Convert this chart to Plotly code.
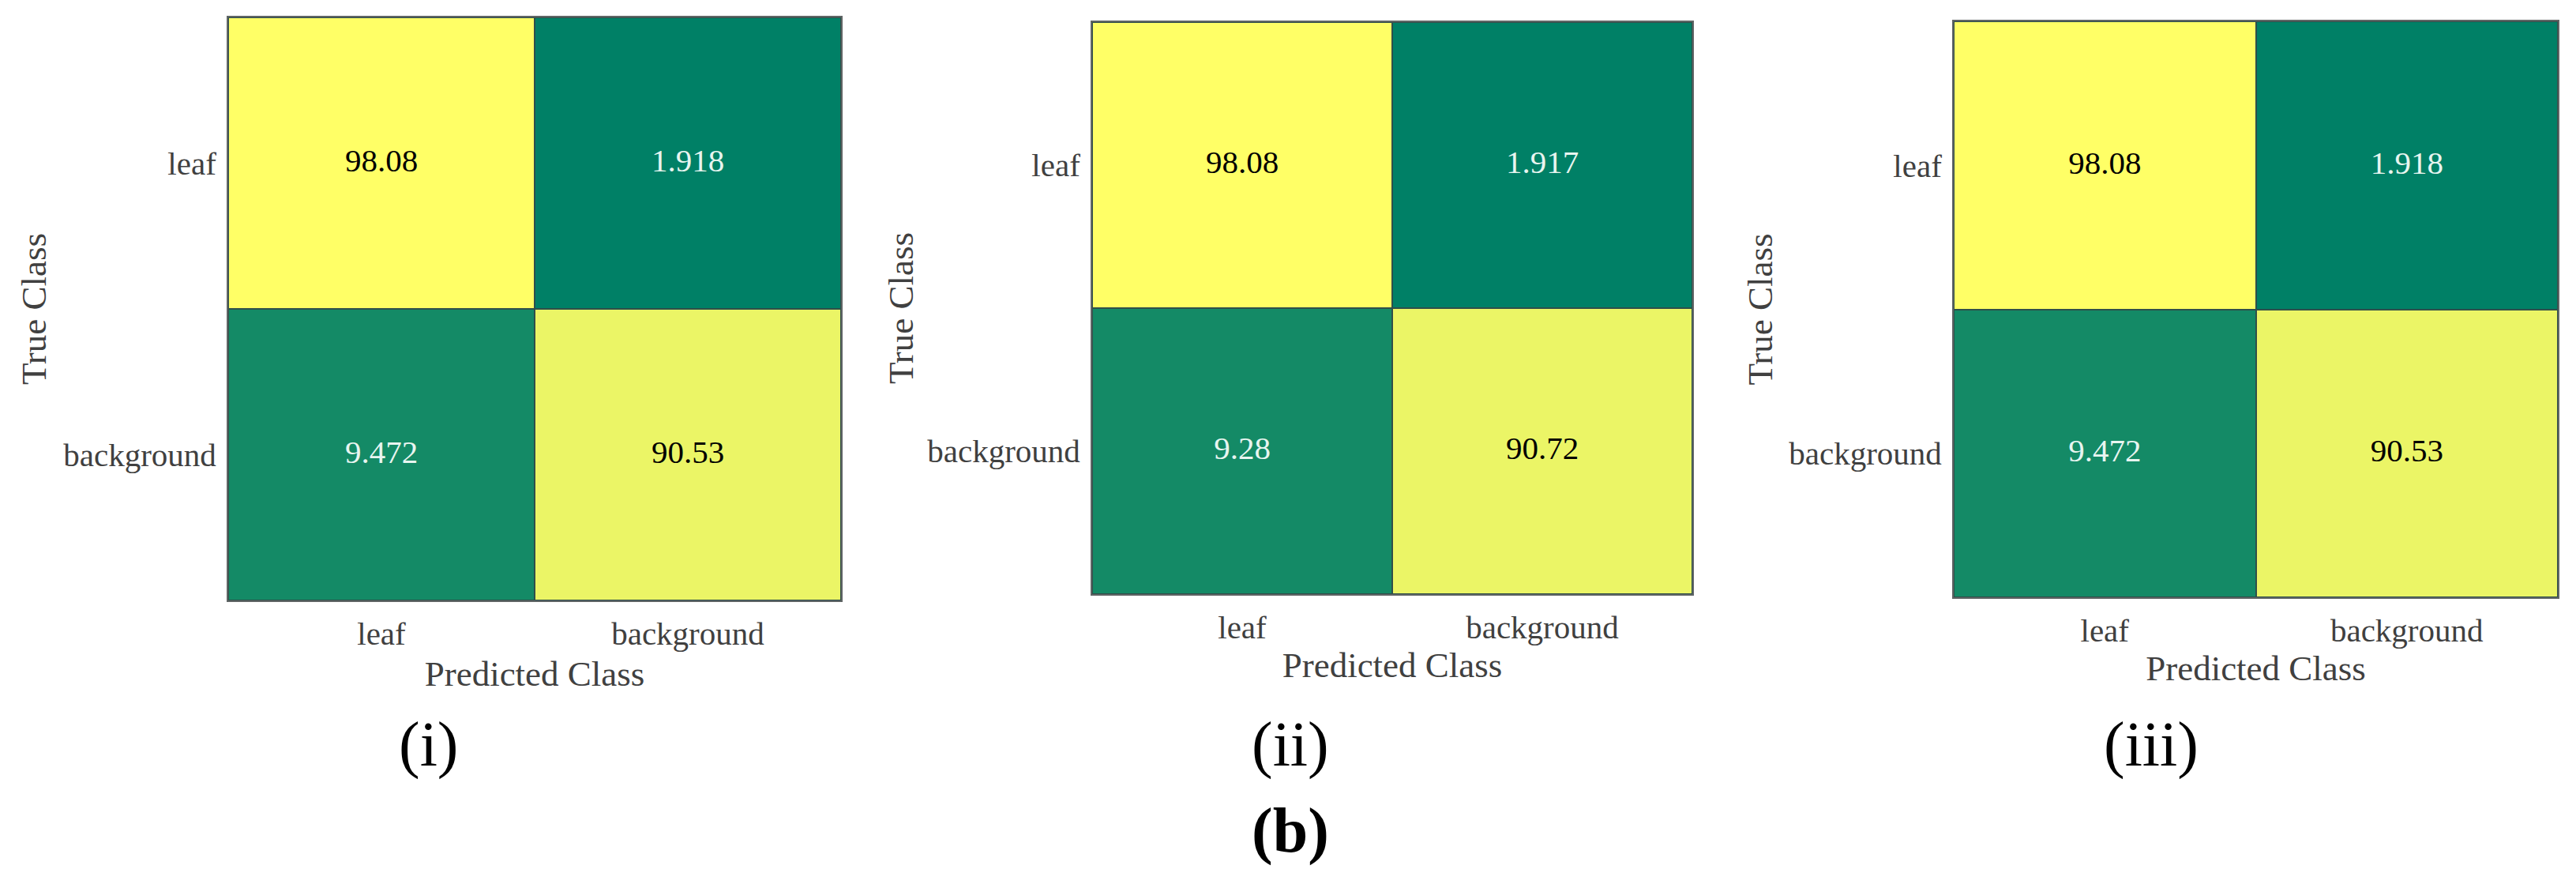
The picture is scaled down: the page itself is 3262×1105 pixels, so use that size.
import plotly.graph_objects as go

# Data
classes = ["leaf", "background"]
panel_names = ["(i)", "(ii)", "(iii)"]
values_i = [[98.08, 1.918], [9.472, 90.53]]
values_ii = [[98.08, 1.917], [9.28, 90.72]]
values_iii = [[98.08, 1.918], [9.472, 90.53]]
labels_i = [["98.08", "1.918"], ["9.472", "90.53"]]
labels_ii = [["98.08", "1.917"], ["9.28", "90.72"]]
labels_iii = [["98.08", "1.918"], ["9.472", "90.53"]]
x_title = "Predicted Class"
y_title = "True Class"
figure_label = "(b)"

# Layout (pixels in the 3262x1105 page)
W, H = 3262, 1105
boxes = [(289, 1065, 22, 760), (1383, 2143, 28, 752), (2474, 3239, 27, 756)]
caption_x = [543, 1634, 2724]
caption_y = 942
ytitle_x = [44, 1142, 2230]
xtitle_y = [852, 841, 845]
FONT = "Liberation Serif"
TXT = "#404040"
summer = [[0, "rgb(0,128,102)"], [1, "rgb(255,255,102)"]]

fig = go.Figure()
panels = [(values_i, labels_i), (values_ii, labels_ii), (values_iii, labels_iii)]
layout = {}
for k, ((vals, labs), box) in enumerate(zip(panels, boxes)):
    n = "" if k == 0 else str(k + 1)
    xa, ya = "x" + n, "y" + n
    fig.add_trace(go.Heatmap(
        z=vals, x=classes, y=classes, colorscale=summer, zmin=1.917, zmax=98.08,
        showscale=False, xgap=2, ygap=2, xaxis=xa, yaxis=ya, hoverinfo="skip"))
    xs, ys, ts, cs = [], [], [], []
    for r, row_name in enumerate(classes):
        for c, col_name in enumerate(classes):
            xs.append(col_name)
            ys.append(row_name)
            ts.append(labs[r][c])
            cs.append("#000000" if vals[r][c] > 50 else "#e8f5f0")
    fig.add_trace(go.Scatter(
        x=xs, y=ys, text=ts, mode="text", xaxis=xa, yaxis=ya, showlegend=False,
        textposition="middle center", hoverinfo="skip",
        textfont=dict(family=FONT, size=41, color=cs)))
    left, right, top, bottom = box
    layout["xaxis" + n] = dict(
        domain=[left / W, right / W], anchor=ya, type="category",
        categoryorder="array", categoryarray=classes,
        showgrid=False, zeroline=False, showline=True, mirror=True,
        linecolor="#606565", linewidth=2, ticks="outside", ticklen=5,
        tickcolor="rgba(0,0,0,0)", tickfont=dict(family=FONT, size=41, color=TXT),
        title=dict(text=x_title, font=dict(family=FONT, size=45, color=TXT),
                   standoff=xtitle_y[k] - bottom - 80))
    layout["yaxis" + n] = dict(
        domain=[1 - bottom / H, 1 - top / H], anchor=xa, type="category",
        categoryorder="array", categoryarray=classes[::-1],
        showgrid=False, zeroline=False, showline=True, mirror=True,
        linecolor="#606565", linewidth=2, ticks="outside", ticklen=5,
        tickcolor="rgba(0,0,0,0)", tickfont=dict(family=FONT, size=41, color=TXT),
        title=dict(text=y_title, font=dict(family=FONT, size=45, color=TXT),
                   standoff=left - ytitle_x[k] - 238))

annotations = [
    dict(text=t, x=cx / W, y=1 - caption_y / H, xref="paper", yref="paper",
         showarrow=False, xanchor="center", yanchor="middle",
         font=dict(family=FONT, size=80, color="#000000"))
    for t, cx in zip(panel_names, caption_x)
]
annotations.append(dict(
    text="<b>" + figure_label + "</b>", x=1634 / W, y=1 - 1051 / H,
    xref="paper", yref="paper", showarrow=False, xanchor="center", yanchor="middle",
    font=dict(family=FONT, size=80, color="#000000")))

fig.update_layout(
    width=W, height=H, margin=dict(l=0, r=0, t=0, b=0),
    paper_bgcolor="white", plot_bgcolor="#2f4f4a", showlegend=False,
    annotations=annotations, **layout)

fig.write_html("out.html", config={"displayModeBar": False},
               post_script="document.body.style.margin='0';document.body.style.overflow='hidden';")
